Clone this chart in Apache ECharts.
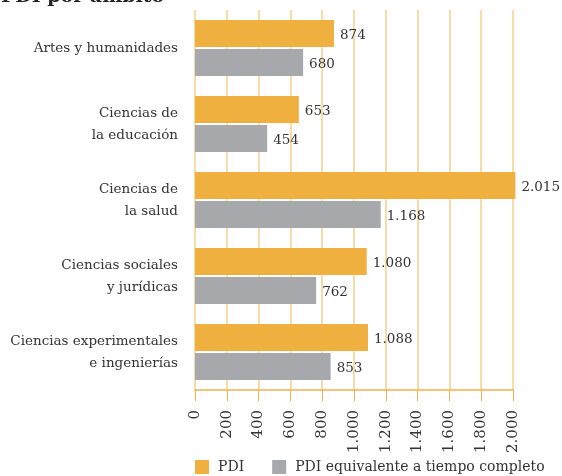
<!DOCTYPE html>
<html><head><meta charset="utf-8">
<script src="https://cdn.jsdelivr.net/npm/echarts@6/dist/echarts.min.js"></script>
<style>html,body{margin:0;padding:0;background:#fff}#c{width:562px;height:476px}</style>
</head><body><div id="c"></div>
<script>
var categories = ["Artes y humanidades", "Ciencias de\nla educación", "Ciencias de\nla salud", "Ciencias sociales\ny jurídicas", "Ciencias experimentales\ne ingenierías"];
var pdi = [874, 653, 2015, 1080, 1088];
var pdiETC = [680, 454, 1168, 762, 853];
var seriesNames = ["PDI", "PDI equivalente a tiempo completo"];
var fmt = function (v) { return String(v).replace(/\B(?=(\d{3})+(?!\d))/g, "."); };
var serif = "DejaVu Serif";
var chart = echarts.init(document.getElementById('c'));
chart.setOption({
  animation: false,
  title: { text: "PDI por ámbito", left: -4, top: -17, textStyle: { fontFamily: serif, fontWeight: "bold", fontSize: 19, color: "#222" } },
  legend: { bottom: -3, left: 190, itemWidth: 14, itemHeight: 14, itemGap: 28, icon: "rect",
    textStyle: { fontFamily: serif, fontSize: 14, color: "#333", padding: [0, 0, 0, 4] }, data: seriesNames },
  grid: { left: 195, right: 49, top: 10, bottom: 86, containLabel: false },
  xAxis: { type: "value", min: 0, max: 2000, interval: 200,
    axisLine: { show: true, lineStyle: { color: "#F0B24A", width: 1.5 } },
    axisTick: { show: true, length: 11, lineStyle: { color: "#F0B24A" } },
    splitLine: { show: true, lineStyle: { color: "#F7CF8A", width: 1.5 } },
    axisLabel: { rotate: 90, margin: 20, fontFamily: serif, fontSize: 15, color: "#333", formatter: fmt } },
  yAxis: { type: "category", inverse: true, data: categories,
    axisLine: { show: false }, axisTick: { show: false },
    axisLabel: { fontFamily: serif, fontSize: 13.5, color: "#333", margin: 17, lineHeight: 22, align: "right" } },
  series: [
    { name: seriesNames[0], type: "bar", data: pdi, barGap: "7%", barCategoryGap: "26%", clip: false,
      itemStyle: { color: "#EFB040" },
      label: { show: true, position: "right", distance: 6, fontFamily: serif, fontSize: 13.5, color: "#333", offset: [0, 2], formatter: function (p) { return fmt(p.value); } } },
    { name: seriesNames[1], type: "bar", data: pdiETC, clip: false,
      itemStyle: { color: "#A7A8AB" },
      label: { show: true, position: "right", distance: 6, fontFamily: serif, fontSize: 13.5, color: "#333", offset: [0, 2], formatter: function (p) { return fmt(p.value); } } }
  ]
});
</script></body></html>
